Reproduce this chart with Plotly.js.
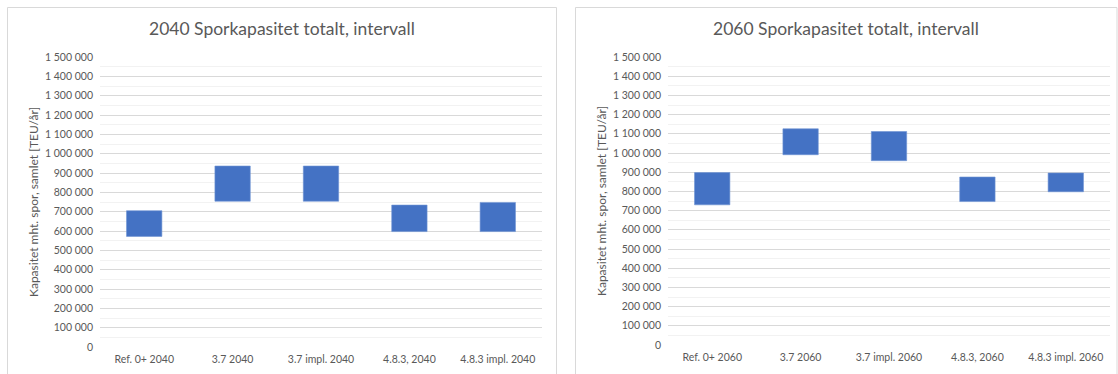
<!DOCTYPE html>
<html>
<head>
<meta charset="utf-8">
<script src="https://cdn.plot.ly/plotly-3.0.1.min.js"></script>
<style>
  html, body { margin: 0; padding: 0; background: #ffffff; }
  #chart { width: 1118px; height: 374px; }
</style>
</head>
<body>
<div id="chart"></div>
<script>
// Track capacity intervals (TEU per year), low and high end of each scenario
const categories2040 = ["Ref. 0+ 2040", "3.7 2040", "3.7 impl. 2040", "4.8.3, 2040", "4.8.3 impl. 2040"];
const low2040  = [572000, 754000, 754000, 597000, 597000];
const high2040 = [705000, 936000, 936000, 734000, 748000];

const categories2060 = ["Ref. 0+ 2060", "3.7 2060", "3.7 impl. 2060", "4.8.3, 2060", "4.8.3 impl. 2060"];
const low2060  = [730000, 991000, 960000, 747000, 798000];
const high2060 = [898000, 1126000, 1112000, 875000, 896000];

const titles = ["2040 Sporkapasitet totalt, intervall", "2060 Sporkapasitet totalt, intervall"];
const yTitle = "Kapasitet mht. spor, samlet [TEU/år]";

const W = 1118, H = 374;
const FONT = "Lato, 'Open Sans', sans-serif";
const GREY = "#595959";
const BAR = "#4472C4";

function span(lo, hi) { return hi.map((h, i) => h - lo[i]); }

const traces = [
  {
    type: "bar", x: categories2040, y: span(low2040, high2040), base: low2040,
    marker: { color: BAR, line: { color: "#6f93d3", width: 0.6 } }, width: 0.4,
    xaxis: "x", yaxis: "y", hoverinfo: "skip"
  },
  {
    type: "bar", x: categories2060, y: span(low2060, high2060), base: low2060,
    marker: { color: BAR, line: { color: "#6f93d3", width: 0.6 } }, width: 0.4,
    xaxis: "x2", yaxis: "y2", hoverinfo: "skip"
  }
];

const px = v => v / W;
const py = v => 1 - v / H;

function yAxis(domain, anchor) {
  return {
    domain: domain, anchor: anchor,
    range: [0, 1500000], dtick: 100000, tick0: 0,
    tickformat: ",d",
    showgrid: true, gridcolor: "#d9d9d9", gridwidth: 1,
    minor: { dtick: 50000, showgrid: true, gridcolor: "#f2f2f2", gridwidth: 1 },
    zeroline: false, showline: false, ticks: "",
    ticklen: 0, ticklabelstandoff: 6,
    tickfont: { family: FONT, size: 10.5, color: GREY },
    fixedrange: true
  };
}

function xAxis(domain, anchor) {
  return {
    domain: domain, anchor: anchor,
    showgrid: false, zeroline: false, showline: false, ticks: "",
    tickangle: 0, ticklabelstandoff: 4,
    tickfont: { family: FONT, size: 10.5, color: GREY },
    fixedrange: true
  };
}

const layout = {
  width: W, height: H,
  margin: { l: 0, r: 0, t: 0, b: 0, pad: 0 },
  paper_bgcolor: "#ffffff", plot_bgcolor: "#ffffff",
  separators: ", ",
  showlegend: false,
  xaxis:  xAxis([px(100), px(542)], "y"),
  yaxis:  yAxis([py(347), py(57)], "x"),
  xaxis2: xAxis([px(668), px(1110)], "y2"),
  yaxis2: yAxis([py(345), py(57)], "x2"),
  shapes: [
    { type: "rect", xref: "paper", yref: "paper", x0: px(7.5), x1: px(556.5), y0: py(380), y1: py(7.5),
      line: { color: "#d9d9d9", width: 1 }, layer: "below" },
    { type: "rect", xref: "paper", yref: "paper", x0: px(575.5), x1: px(1117), y0: py(380), y1: py(7.5),
      line: { color: "#d9d9d9", width: 1 }, layer: "below" }
  ],
  annotations: [
    { text: titles[0], xref: "paper", yref: "paper", x: px(282), y: py(29), xanchor: "center", yanchor: "middle",
      showarrow: false, font: { family: FONT, size: 17.5, color: GREY } },
    { text: titles[1], xref: "paper", yref: "paper", x: px(846), y: py(29), xanchor: "center", yanchor: "middle",
      showarrow: false, font: { family: FONT, size: 17.5, color: GREY } },
    { text: yTitle, xref: "paper", yref: "paper", x: px(33), y: py(202), xanchor: "center", yanchor: "middle",
      textangle: -90, showarrow: false, font: { family: FONT, size: 12, color: GREY } },
    { text: yTitle, xref: "paper", yref: "paper", x: px(601), y: py(201), xanchor: "center", yanchor: "middle",
      textangle: -90, showarrow: false, font: { family: FONT, size: 12, color: GREY } }
  ]
};

Plotly.newPlot("chart", traces, layout, { staticPlot: true, displayModeBar: false });
</script>
</body>
</html>
